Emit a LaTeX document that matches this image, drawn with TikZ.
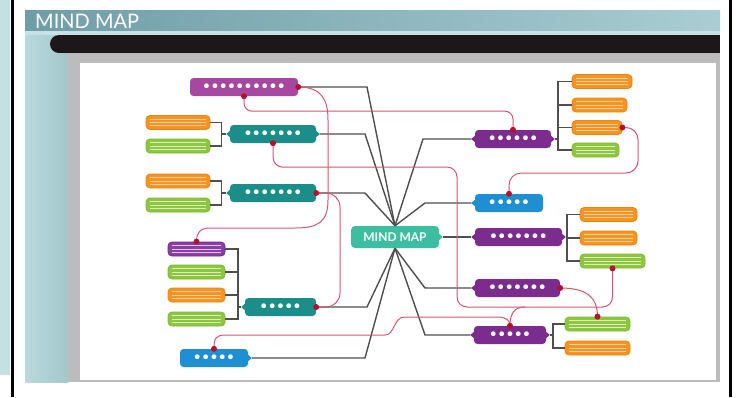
\documentclass[tikz,border=0pt]{standalone}
\usepackage{fontspec}
\setmainfont{Lato}
\usetikzlibrary{calc}
\definecolor{magc}{HTML}{A6489F}
\definecolor{tealc}{HTML}{1B8E89}
\definecolor{purc}{HTML}{7B2C8E}
\definecolor{bluc}{HTML}{1D8FD2}
\definecolor{cenc}{HTML}{3DBEA0}
\definecolor{orac}{HTML}{F7931E}
\definecolor{orad}{HTML}{EE8410}
\definecolor{oral}{HTML}{FDD3A6}
\definecolor{grec}{HTML}{8DC63F}
\definecolor{gred}{HTML}{7DB832}
\definecolor{grel}{HTML}{DDEDBE}
\definecolor{vioc}{HTML}{8A3FA6}
\definecolor{viod}{HTML}{6E2A8A}
\definecolor{viol}{HTML}{E2C4EE}
\definecolor{linec}{HTML}{4F4F4F}
\definecolor{redc}{HTML}{D8566F}
\definecolor{dotc}{HTML}{B8102C}
\definecolor{hdrL}{HTML}{6F9DA7}
\definecolor{hdrR}{HTML}{A9CDD2}
\definecolor{frmc}{HTML}{A9CED2}
\definecolor{stripL}{HTML}{B9DADD}
\definecolor{stripR}{HTML}{A2C7CB}
\definecolor{bandc}{HTML}{C7E1E4}
\definecolor{barc}{HTML}{1E1719}
\definecolor{scrc}{HTML}{BCBCBC}
\definecolor{edgec}{HTML}{C3E0E3}
\newcommand\mmdots[1]{\foreach \i in {1,...,#1}{\makebox[8.3pt]{\textbullet}}}
\newcommand\tipL[2]{\fill[#2] ($(#1.west)+(1.5,-4.5)$) -- ($(#1.west)+(-3.5,0)$) -- ($(#1.west)+(1.5,4.5)$) -- cycle;}
\newcommand\tipR[2]{\fill[#2] ($(#1.east)+(-1.5,-4.5)$) -- ($(#1.east)+(3.5,0)$) -- ($(#1.east)+(-1.5,4.5)$) -- cycle;}
\newcommand\rdot[1]{\fill[dotc] (#1) circle[radius=3pt];}
\tikzset{
  mnode/.style={rounded corners=3.5pt, minimum height=18pt, inner sep=0pt, text=white,
    font=\bfseries\fontsize{11}{11}\selectfont, fill=#1},
  cbar/.style n args={3}{rounded corners=4pt, minimum height=14pt, inner sep=0pt,
    fill=#1, draw=#2, line width=0.8pt,
    path picture={\foreach \k in {-3.2,0,3.2}{\draw[#3, line width=0.8pt]
      ($(path picture bounding box.west)+(4pt,\k pt)$) -- ($(path picture bounding box.east)+(-4pt,\k pt)$);}}},
  obar/.style={cbar={orac}{orad}{oral}},
  gbar/.style={cbar={grec}{gred}{grel}},
  vbar/.style={cbar={vioc}{viod}{viol}},
  gline/.style={draw=linec, line width=1.4pt},
  bline/.style={draw=linec, line width=1.2pt},
  rline/.style={draw=redc, line width=1pt}
}
\begin{document}
\begin{tikzpicture}[x=1pt,y=-1pt]
\useasboundingbox (0,0) rectangle (736,397);
% ---------- background / frame ----------
\fill[white] (0,0) rectangle (736,397);
\fill[edgec] (0,0) rectangle (10,375);
\fill[black] (11,0) rectangle (13.5,397);
\fill[black] (729,0) rectangle (731.5,397);
\fill[frmc] (25,10) rectangle (720,382);
\shade[left color=hdrL, right color=hdrR] (25,10) rectangle (720,31);
\fill[bandc] (25,31) rectangle (720,35);
\shade[left color=stripL, right color=stripR] (25,35) rectangle (68,382);
\fill[barc] (59,35) rectangle (720,53);
\fill[barc] (59,44) circle[radius=9pt];
\fill[scrc] (68,53) rectangle (720,382);
\fill[white] (80,63) rectangle (716,380);
\node[anchor=base west, inner sep=0pt, text=white, font=\fontsize{20}{20}\selectfont] (title) at (35,28) {MIND MAP};
% ---------- main nodes ----------
\node[mnode=cenc, minimum width=88pt, minimum height=22pt, rounded corners=4pt,
  font=\bfseries\fontsize{12}{12}\selectfont] (cen) at (395,237) {MIND MAP};
\node[mnode=magc, minimum width=108pt] (mag) at (244,87) {\mmdots{10}};
\node[mnode=tealc, minimum width=86pt] (t1) at (273,134) {\mmdots{7}};
\node[mnode=tealc, minimum width=86pt] (t2) at (273,193) {\mmdots{7}};
\node[mnode=tealc, minimum width=71pt] (t3) at (280.5,307) {\mmdots{5}};
\node[mnode=bluc, minimum width=68pt] (bl) at (214,358) {\mmdots{5}};
\node[mnode=purc, minimum width=76pt] (p1) at (513,139) {\mmdots{6}};
\node[mnode=bluc, minimum width=68pt] (b2) at (509,203) {\mmdots{5}};
\node[mnode=purc, minimum width=87pt] (p2) at (518.5,237) {\mmdots{7}};
\node[mnode=purc, minimum width=85pt] (p3) at (517.5,288) {\mmdots{7}};
\node[mnode=purc, minimum width=72pt] (p4) at (510,335) {\mmdots{5}};
\tipL{t1}{tealc}\tipR{t1}{tealc}
\tipL{t2}{tealc}
\tipL{t3}{tealc}
\tipR{bl}{bluc}
\tipL{p1}{purc}\tipR{p1}{purc}
\tipL{b2}{bluc}
\tipL{p2}{purc}\tipR{p2}{purc}
\tipL{p3}{purc}
\tipL{p4}{purc}\tipR{p4}{purc}
\tipR{cen}{cenc}
% ---------- child bars ----------
\node[obar, minimum width=64pt] (lo1) at (178,122.5) {};
\node[gbar, minimum width=64pt] (lg1) at (178,146) {};
\node[obar, minimum width=64pt] (lo2) at (178,181) {};
\node[gbar, minimum width=64pt] (lg2) at (178,205) {};
\node[vbar, minimum width=57pt] (lv) at (196.5,249) {};
\node[gbar, minimum width=57pt] (lg3) at (196.5,272) {};
\node[obar, minimum width=57pt] (lo3) at (196.5,295) {};
\node[gbar, minimum width=57pt] (lg4) at (196.5,319) {};
\node[obar, minimum width=60pt] (ro1) at (602,81.5) {};
\node[obar, minimum width=55pt] (ro2) at (599.5,105) {};
\node[obar, minimum width=50pt] (ro3) at (597,127.5) {};
\node[gbar, minimum width=47pt] (rg1) at (595.5,150) {};
\node[obar, minimum width=57pt] (ro4) at (608.5,214.5) {};
\node[obar, minimum width=57pt] (ro5) at (608.5,238) {};
\node[gbar, minimum width=65pt] (rg2) at (612.5,261) {};
\node[gbar, minimum width=65pt] (rg3) at (597.5,324) {};
\node[obar, minimum width=65pt] (ro6) at (597.5,348) {};
% ---------- brackets ----------
\coordinate (b1) at ($(t1.west)+(-8,0)$);
\coordinate (b2k) at ($(t2.west)+(-8,0)$);
\coordinate (b3) at (238,307);
\coordinate (b4) at (558,139);
\coordinate (b5) at (567,237);
\coordinate (b6) at (553,335);
\draw[bline] (lo1.east) -| (b1) |- (lg1.east);
\draw[bline] (b1) -- ($(t1.west)+(-3.5,0)$);
\draw[bline] (lo2.east) -| (b2k) |- (lg2.east);
\draw[bline] (b2k) -- ($(t2.west)+(-3.5,0)$);
\draw[bline] (lv.east) -- (lv.east -| b3) -- (lg4.east -| b3) -- (lg4.east);
\draw[bline] (lg3.east) -- (lg3.east -| b3);
\draw[bline] (lo3.east) -- (lo3.east -| b3);
\draw[bline] (b3) -- ($(t3.west)+(-3.5,0)$);
\draw[bline] (ro1.west) -- (ro1.west -| b4) -- (rg1.west -| b4) -- (rg1.west);
\draw[bline] (ro2.west) -- (ro2.west -| b4);
\draw[bline] (ro3.west) -- (ro3.west -| b4);
\draw[bline] ($(p1.east)+(3.5,0)$) -- (b4);
\draw[bline] (ro4.west) -- (ro4.west -| b5) -- (rg2.west -| b5) -- (rg2.west);
\draw[bline] (ro5.west) -- (ro5.west -| b5);
\draw[bline] ($(p2.east)+(3.5,0)$) -- (b5);
\draw[bline] (rg3.west) -- (rg3.west -| b6) -- (ro6.west -| b6) -- (ro6.west);
\draw[bline] ($(p4.east)+(3.5,0)$) -- (b6);
% ---------- fan from centre ----------
\draw[gline] (mag.east) -- (367,87) -- (cen.north);
\draw[gline] ($(t1.east)+(3.5,0)$) -- (365,134) -- (cen.north);
\draw[gline] (t2.east) -- (365,193) -- (cen.north);
\draw[gline] ($(p1.west)+(-3.5,0)$) -- (423,139) -- (cen.north);
\draw[gline] ($(b2.west)+(-3.5,0)$) -- (425,203) -- (cen.north);
\draw[gline] ($(cen.east)+(3.5,0)$) -- ($(p2.west)+(-3.5,0)$);
\draw[gline] (t3.east) -- (367,307) -- (cen.south);
\draw[gline] ($(bl.east)+(3.5,0)$) -- (365,358) -- (cen.south);
\draw[gline] ($(p3.west)+(-3.5,0)$) -- (425,288) -- (cen.south);
\draw[gline] ($(p4.west)+(-3.5,0)$) -- (425,335) -- (cen.south);
% ---------- red links ----------
\draw[rline, rounded corners=8pt] (mag.south) -- ++(0,15) -| (p1.north);
\draw[rline] (mag.east) .. controls (322,87) and (328,100) .. (328,120) -- (328,200)
  .. controls (328,222) and (318,228) .. (295,228) -- (210,228)
  .. controls (200,228) and (196.5,233) .. (lv.north);
\draw[rline, rounded corners=14pt] (t2.east) -- (340,193) -- (340,307) -- (t3.east);
\draw[rline, rounded corners=10pt] (t1.south) -- ++(0,24) -- (457,167) -- (457,307) -| (rg2.south);
\draw[rline] (525,307) .. controls (514,307) and (510,314) .. (p4.north);
\draw[rline] (bl.north) .. controls (214,338) and (216,335) .. (226,335) -- (385,335)
  .. controls (395,335) and (393,317) .. (405,317) -- (497,317)
  .. controls (506,317) and (510,320) .. (p4.north);
\draw[rline] (p3.east) .. controls (585,288) and (597.5,296) .. (rg3.north);
\draw[rline, rounded corners=12pt] (ro3.east) -- (638,127.5) -- (638,173) -| (b2.north);
% ---------- red dots ----------
\rdot{mag.east}\rdot{mag.south}\rdot{t1.south}\rdot{t2.east}\rdot{t3.east}
\rdot{lv.north}\rdot{bl.north}\rdot{p1.north}\rdot{b2.north}\rdot{p3.east}
\rdot{p4.north}\rdot{ro3.east}\rdot{rg2.south}\rdot{rg3.north}
\end{tikzpicture}
\end{document}
